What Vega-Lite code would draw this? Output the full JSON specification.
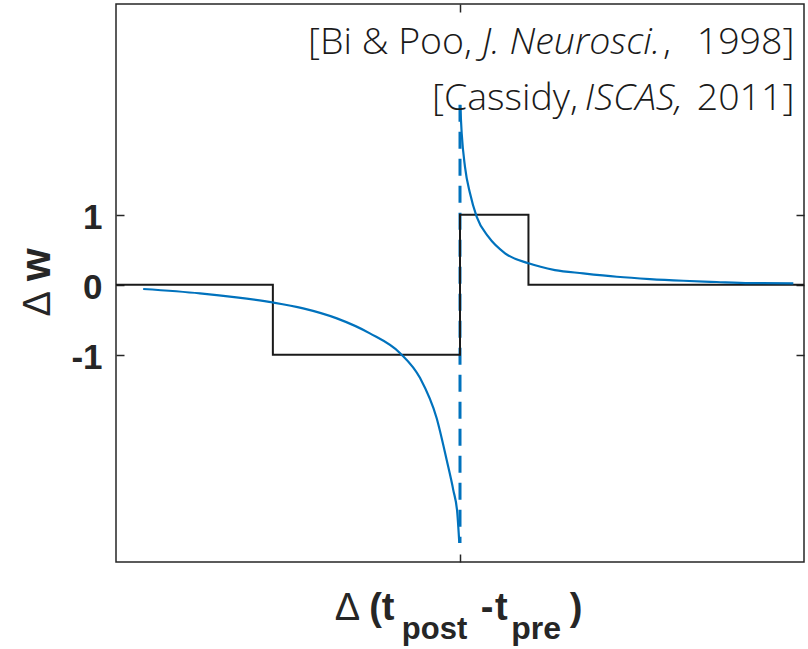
{
  "$schema": "https://vega.github.io/schema/vega-lite/v6.json",
  "width": 688,
  "height": 558,
  "autosize": {"type": "none"},
  "padding": {"left": 116, "top": 4, "right": 4, "bottom": 87},
  "background": "white",
  "config": {
    "view": {"stroke": "#262626", "strokeWidth": 1.5},
    "axis": {"grid": false, "domain": false, "tickColor": "#262626", "tickWidth": 1.5}
  },
  "datasets": {
    "one": [{}],
    "step": [
      {"x": -100, "w": 0},
      {"x": -54.4, "w": -1},
      {"x": 0, "w": 1},
      {"x": 19.9, "w": 0},
      {"x": 100, "w": 0}
    ],
    "curve": [
      {"branch": "L", "x": -92.1, "w": -0.061},
      {"branch": "L", "x": -75.6, "w": -0.123},
      {"branch": "L", "x": -65.0, "w": -0.18},
      {"branch": "L", "x": -54.3, "w": -0.254},
      {"branch": "L", "x": -45.6, "w": -0.337},
      {"branch": "L", "x": -35.8, "w": -0.48},
      {"branch": "L", "x": -26.2, "w": -0.694},
      {"branch": "L", "x": -17.4, "w": -0.977},
      {"branch": "L", "x": -11.6, "w": -1.333},
      {"branch": "L", "x": -6.8, "w": -1.904},
      {"branch": "L", "x": -3.87, "w": -2.504},
      {"branch": "L", "x": -1.95, "w": -2.933},
      {"branch": "L", "x": -0.78, "w": -3.261},
      {"branch": "L", "x": -0.2, "w": -3.689},
      {"branch": "R", "x": 0.05, "w": 2.567},
      {"branch": "R", "x": 0.49, "w": 2.163},
      {"branch": "R", "x": 1.45, "w": 1.685},
      {"branch": "R", "x": 2.91, "w": 1.306},
      {"branch": "R", "x": 4.86, "w": 0.971},
      {"branch": "R", "x": 8.23, "w": 0.686},
      {"branch": "R", "x": 13.1, "w": 0.449},
      {"branch": "R", "x": 19.9, "w": 0.306},
      {"branch": "R", "x": 27.6, "w": 0.21},
      {"branch": "R", "x": 35.8, "w": 0.163},
      {"branch": "R", "x": 45.6, "w": 0.114},
      {"branch": "R", "x": 55.2, "w": 0.081},
      {"branch": "R", "x": 64.9, "w": 0.057},
      {"branch": "R", "x": 74.6, "w": 0.039},
      {"branch": "R", "x": 84.3, "w": 0.024},
      {"branch": "R", "x": 96.9, "w": 0.02}
    ]
  },
  "resolve": {"axis": {"x": "independent", "y": "independent"}},
  "layer": [
    {
      "data": {"name": "one"},
      "mark": {"type": "rule", "color": "#0072BD", "strokeWidth": 3, "strokeDash": [17, 10]},
      "encoding": {
        "x": {"datum": 0, "type": "quantitative", "axis": null},
        "y": {"datum": 2.57, "type": "quantitative", "axis": null},
        "y2": {"datum": -3.69}
      }
    },
    {
      "data": {"name": "step"},
      "mark": {"type": "line", "interpolate": "step-after", "color": "#1a1a1a", "strokeWidth": 2},
      "encoding": {
        "x": {"field": "x", "type": "quantitative",
          "scale": {"domain": [-100, 100], "nice": false, "zero": false},
          "axis": {"orient": "bottom", "values": [0], "labels": false, "tickSize": -8, "title": null}},
        "y": {"field": "w", "type": "quantitative",
          "scale": {"domain": [-3.96, 4.01], "nice": false, "zero": false},
          "axis": {"orient": "left", "values": [-1, 0, 1], "tickSize": -8, "labelPadding": 22,
            "labelFont": "Liberation Sans", "labelFontWeight": "bold", "labelFontSize": 35,
            "labelColor": "#262626", "labelExpr": "'' + datum.value", "labelOffset": 3, "title": null}}
      }
    },
    {
      "data": {"name": "curve"},
      "mark": {"type": "line", "interpolate": "monotone", "color": "#0072BD", "strokeWidth": 2.2},
      "encoding": {
        "x": {"field": "x", "type": "quantitative",
          "scale": {"domain": [-100, 100], "nice": false, "zero": false},
          "axis": {"orient": "top", "values": [0], "labels": false, "tickSize": -8, "title": null}},
        "y": {"field": "w", "type": "quantitative",
          "scale": {"domain": [-3.96, 4.01], "nice": false, "zero": false},
          "axis": {"orient": "right", "values": [-1, 0, 1], "labels": false, "tickSize": -8, "title": null}},
        "detail": {"field": "branch"},
        "order": {"field": "x"}
      }
    },
    {
      "data": {"name": "one"},
      "mark": {"type": "text", "text": "[Bi & Poo,", "font": "Open Sans", "fontWeight": 300, "fontSize": 37.5, "align": "left", "baseline": "alphabetic", "color": "#1a1a1a"},
      "encoding": {"x": {"datum": -44.19, "type": "quantitative", "axis": null}, "y": {"datum": 3.295, "type": "quantitative", "axis": null}}
    },
    {
      "data": {"name": "one"},
      "mark": {"type": "text", "text": "J. Neurosci.", "font": "Open Sans", "fontStyle": "italic", "fontWeight": 300, "fontSize": 37.5, "align": "left", "baseline": "alphabetic", "color": "#1a1a1a"},
      "encoding": {"x": {"datum": 6.4, "type": "quantitative", "axis": null}, "y": {"datum": 3.295, "type": "quantitative", "axis": null}}
    },
    {
      "data": {"name": "one"},
      "mark": {"type": "text", "text": ",", "font": "Open Sans", "fontWeight": 300, "fontSize": 37.5, "align": "left", "baseline": "alphabetic", "color": "#1a1a1a"},
      "encoding": {"x": {"datum": 59.0, "type": "quantitative", "axis": null}, "y": {"datum": 3.295, "type": "quantitative", "axis": null}}
    },
    {
      "data": {"name": "one"},
      "mark": {"type": "text", "text": "1998]", "font": "Open Sans", "fontWeight": 300, "fontSize": 37.5, "align": "right", "baseline": "alphabetic", "color": "#1a1a1a"},
      "encoding": {"x": {"datum": 97.2, "type": "quantitative", "axis": null}, "y": {"datum": 3.295, "type": "quantitative", "axis": null}}
    },
    {
      "data": {"name": "one"},
      "mark": {"type": "text", "text": "[Cassidy,", "font": "Open Sans", "fontWeight": 300, "fontSize": 37.5, "align": "left", "baseline": "alphabetic", "color": "#1a1a1a"},
      "encoding": {"x": {"datum": -8.14, "type": "quantitative", "axis": null}, "y": {"datum": 2.495, "type": "quantitative", "axis": null}}
    },
    {
      "data": {"name": "one"},
      "mark": {"type": "text", "text": "ISCAS,", "font": "Open Sans", "fontStyle": "italic", "fontWeight": 300, "fontSize": 37.5, "align": "left", "baseline": "alphabetic", "color": "#1a1a1a"},
      "encoding": {"x": {"datum": 36.3, "type": "quantitative", "axis": null}, "y": {"datum": 2.495, "type": "quantitative", "axis": null}}
    },
    {
      "data": {"name": "one"},
      "mark": {"type": "text", "text": "2011]", "font": "Open Sans", "fontWeight": 300, "fontSize": 37.5, "align": "right", "baseline": "alphabetic", "color": "#1a1a1a"},
      "encoding": {"x": {"datum": 97.2, "type": "quantitative", "axis": null}, "y": {"datum": 2.495, "type": "quantitative", "axis": null}}
    },
    {
      "data": {"name": "one"},
      "mark": {"type": "text", "text": "Δ", "font": "Liberation Sans", "fontWeight": "normal", "fontSize": 38, "align": "left", "baseline": "alphabetic", "color": "#262626"},
      "encoding": {"x": {"datum": -36.4, "type": "quantitative", "axis": null}, "y": {"datum": -4.789, "type": "quantitative", "axis": null}}
    },
    {
      "data": {"name": "one"},
      "mark": {"type": "text", "text": "(t", "font": "Liberation Sans", "fontWeight": "bold", "fontSize": 38, "align": "left", "baseline": "alphabetic", "color": "#262626"},
      "encoding": {"x": {"datum": -26.4, "type": "quantitative", "axis": null}, "y": {"datum": -4.789, "type": "quantitative", "axis": null}}
    },
    {
      "data": {"name": "one"},
      "mark": {"type": "text", "text": "post", "font": "Liberation Sans", "fontWeight": "bold", "fontSize": 31, "align": "left", "baseline": "alphabetic", "color": "#262626"},
      "encoding": {"x": {"datum": -16.9, "type": "quantitative", "axis": null}, "y": {"datum": -5.06, "type": "quantitative", "axis": null}}
    },
    {
      "data": {"name": "one"},
      "mark": {"type": "text", "text": "-", "font": "Liberation Sans", "fontWeight": "bold", "fontSize": 38, "align": "left", "baseline": "alphabetic", "color": "#262626"},
      "encoding": {"x": {"datum": 6.0, "type": "quantitative", "axis": null}, "y": {"datum": -4.789, "type": "quantitative", "axis": null}}
    },
    {
      "data": {"name": "one"},
      "mark": {"type": "text", "text": "t", "font": "Liberation Sans", "fontWeight": "bold", "fontSize": 38, "align": "left", "baseline": "alphabetic", "color": "#262626"},
      "encoding": {"x": {"datum": 10.2, "type": "quantitative", "axis": null}, "y": {"datum": -4.789, "type": "quantitative", "axis": null}}
    },
    {
      "data": {"name": "one"},
      "mark": {"type": "text", "text": "pre", "font": "Liberation Sans", "fontWeight": "bold", "fontSize": 32, "align": "left", "baseline": "alphabetic", "color": "#262626"},
      "encoding": {"x": {"datum": 14.9, "type": "quantitative", "axis": null}, "y": {"datum": -5.06, "type": "quantitative", "axis": null}}
    },
    {
      "data": {"name": "one"},
      "mark": {"type": "text", "text": ")", "font": "Liberation Sans", "fontWeight": "bold", "fontSize": 38, "align": "left", "baseline": "alphabetic", "color": "#262626"},
      "encoding": {"x": {"datum": 31.9, "type": "quantitative", "axis": null}, "y": {"datum": -4.789, "type": "quantitative", "axis": null}}
    },
    {
      "data": {"name": "one"},
      "mark": {"type": "text", "text": "Δ", "font": "Liberation Sans", "fontWeight": "normal", "fontSize": 38, "angle": 270, "align": "left", "baseline": "alphabetic", "color": "#262626"},
      "encoding": {"x": {"datum": -119.2, "type": "quantitative", "axis": null}, "y": {"datum": -0.453, "type": "quantitative", "axis": null}}
    },
    {
      "data": {"name": "one"},
      "mark": {"type": "text", "text": "w", "font": "Liberation Sans", "fontWeight": "bold", "fontSize": 42, "angle": 270, "align": "left", "baseline": "alphabetic", "color": "#262626"},
      "encoding": {"x": {"datum": -119.2, "type": "quantitative", "axis": null}, "y": {"datum": 0.053, "type": "quantitative", "axis": null}}
    }
  ]
}
